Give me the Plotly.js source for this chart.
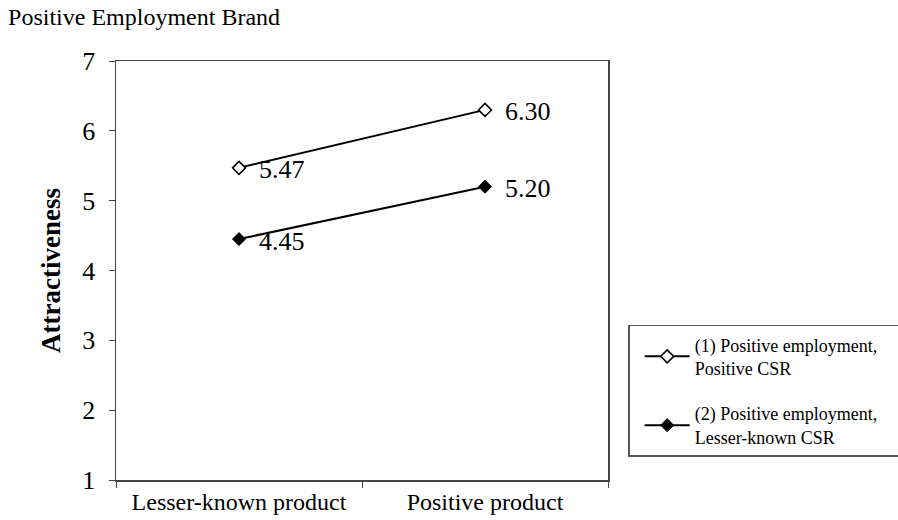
<!DOCTYPE html>
<html>
<head>
<meta charset="utf-8">
<script src="https://cdn.plot.ly/plotly-3.0.1.min.js"></script>
<style>html,body{margin:0;padding:0;background:#fff;}#chart{width:898px;height:520px;}</style>
</head>
<body>
<div id="chart"></div>
<script>
const categories = ["Lesser-known product", "Positive product"];
const series1Name = "(1) Positive employment,&nbsp;&nbsp;&nbsp;&nbsp;<br>Positive CSR";
const series1Values = [5.47, 6.30];
const series2Name = "(2) Positive employment,&nbsp;&nbsp;&nbsp;&nbsp;<br>Lesser-known CSR";
const series2Values = [4.45, 5.20];
const yTicks = [1, 2, 3, 4, 5, 6, 7];

const font = "Liberation Serif, Times New Roman, serif";

const traces = [
  {
    x: categories, y: series1Values, name: series1Name, legendgroup: "g1", type: "scatter", mode: "lines+markers",
    line: {color: "#000", width: 2},
    marker: {symbol: "diamond", size: 10, color: "#fff", line: {color: "#000", width: 1.5}}
  },
  {
    x: categories, y: series2Values, name: series2Name, legendgroup: "g2", type: "scatter", mode: "lines+markers",
    line: {color: "#000", width: 2},
    marker: {symbol: "diamond", size: 10, color: "#000", line: {color: "#000", width: 1}}
  }
];

const annotations = [];
[series1Values, series2Values].forEach(vals => {
  vals.forEach((v, i) => {
    annotations.push({
      x: categories[i], y: v, xref: "x", yref: "y",
      text: v.toFixed(2), showarrow: false, xanchor: "left", yanchor: "middle",
      xshift: 18, yshift: -2, font: {family: font, size: 26, color: "#000"}
    });
  });
});

const layout = {
  width: 898, height: 520,
  paper_bgcolor: "#fff", plot_bgcolor: "#fff",
  margin: {l: 116, r: 290, t: 61, b: 40, autoexpand: false},
  font: {family: font, color: "#000"},
  title: {
    text: "Positive Employment Brand", xref: "container", yref: "container",
    x: 0.009, xanchor: "left", y: 0.985, yanchor: "top",
    font: {family: font, size: 24, color: "#000"}
  },
  xaxis: {
    type: "category", showgrid: false, zeroline: false,
    showline: true, linecolor: "#444", linewidth: 1.5, mirror: true,
    ticks: "outside", tickson: "boundaries", ticklen: 6, tickcolor: "#444",
    tickfont: {family: font, size: 24, color: "#000"},
    range: [-0.5, 1.5]
  },
  yaxis: {
    range: [1, 7], tickvals: yTicks, showgrid: false, zeroline: false,
    showline: true, linecolor: "#444", linewidth: 1.5, mirror: true,
    ticks: "outside", ticklen: 6, tickcolor: "#444", ticklabelstandoff: 8,
    tickfont: {family: font, size: 26, color: "#000"},
    title: {text: "<b>Attractiveness</b>", font: {family: font, size: 27, color: "#000"}, standoff: 14}
  },
  showlegend: true,
  legend: {
    x: 1.041, xanchor: "left", y: 0.37, yanchor: "top",
    bordercolor: "#555", borderwidth: 1.5, bgcolor: "#fff",
    font: {family: font, size: 18, color: "#000"},
    tracegroupgap: 19, itemwidth: 45, indentation: 10
  },
  annotations: annotations
};

Plotly.newPlot("chart", traces, layout, {displayModeBar: false, staticPlot: true});
</script>
</body>
</html>
